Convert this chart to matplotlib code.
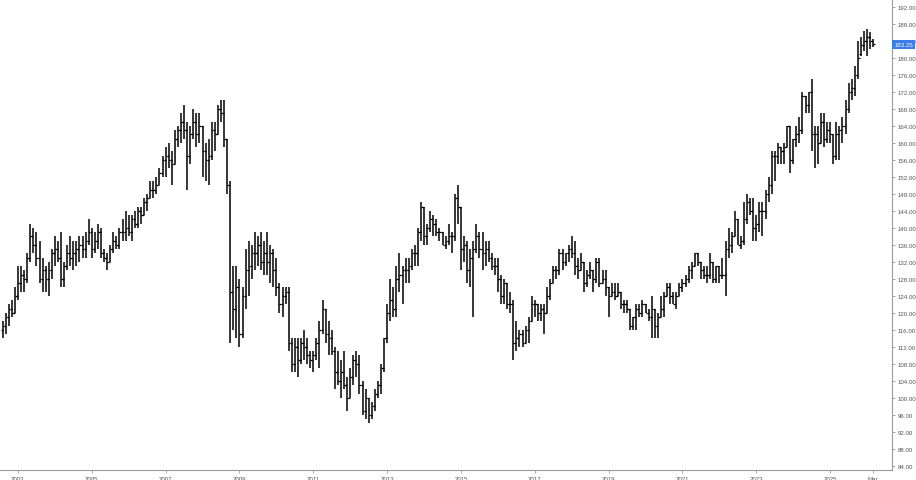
import numpy as np
import matplotlib
matplotlib.use("Agg")
import matplotlib.pyplot as plt

plt.rcParams["font.family"] = ["Liberation Sans", "DejaVu Sans"]

# monthly OHLC bars, Aug 2002 .. Mar 2026 (one line per calendar year)
opens = [
    116, 117, 119, 121, 120,
    124, 127, 129, 128, 133, 138, 136, 133, 128, 130, 128, 130,
    134, 135, 133, 128, 131, 134, 133, 134, 135, 136, 135, 137,
    139, 135, 137, 139, 134, 133, 132, 135, 137, 136, 139, 139,
    140, 139, 142, 141, 144, 143, 146, 147, 149, 149, 150, 153,
    156, 157, 156, 155, 161, 163, 165, 163, 157, 162, 165, 162,
    164, 158, 156, 157, 163, 162, 168, 167, 161, 150, 125, 121,
    126, 115, 124, 130, 131, 134, 134, 136, 132, 134, 132, 134,
    130, 126, 122, 124, 125, 113, 108, 112, 109, 113, 112, 110,
    109, 110, 113, 116, 121, 115, 114, 111, 106, 104, 106, 103,
    100, 105, 109, 108, 103, 97, 100, 96, 98, 101, 103, 107,
    114, 120, 123, 121, 128, 129, 130, 130, 131, 134, 134, 139,
    145, 138, 140, 142, 141, 139, 139, 136, 137, 138, 138, 147,
    145, 135, 136, 130, 133, 135, 138, 135, 134, 135, 133, 131,
    131, 128, 124, 127, 122, 122, 113, 114, 115, 113, 116, 118,
    122, 122, 120, 121, 120, 124, 127, 130, 130, 134, 132, 134,
    135, 134, 131, 130, 132, 127, 129, 130, 128, 132, 127, 128,
    126, 124, 125, 124, 125, 122, 122, 121, 117, 119, 121, 120,
    122, 120, 119, 121, 117, 119, 121, 124, 126, 124, 122, 124,
    126, 127, 128, 130, 131, 134, 132, 130, 129, 129, 132, 128,
    131, 129, 129, 135, 136, 138, 142, 136, 137, 142, 146, 144,
    140, 141, 144, 144, 148, 150, 157, 157, 159, 158, 159, 164,
    156, 161, 162, 163, 171, 169, 172, 162, 162, 160, 165, 161,
    163, 162, 157, 162, 163, 164, 168, 172, 173, 176, 181, 183,
    184, 185, 184,
]
highs = [
    118, 120, 122, 123, 126,
    131, 131, 130, 134, 141, 140, 139, 137, 133, 131, 132, 135,
    138, 137, 139, 132, 136, 138, 137, 137, 138, 138, 139, 142,
    140, 139, 141, 140, 135, 134, 136, 139, 138, 140, 142, 144,
    143, 143, 144, 145, 145, 147, 148, 151, 151, 152, 154, 157,
    159, 160, 158, 163, 164, 167, 169, 165, 164, 168, 167, 167,
    164, 160, 161, 165, 165, 169, 170, 170, 161, 151, 131, 131,
    128, 126, 135, 137, 136, 139, 138, 139, 137, 139, 136, 135,
    133, 127, 126, 126, 126, 114, 114, 114, 114, 116, 114, 111,
    111, 114, 118, 123, 121, 118, 116, 112, 111, 109, 111, 105,
    107, 110, 111, 110, 104, 102, 100, 99, 102, 104, 108, 114,
    122, 128, 126, 131, 134, 131, 133, 133, 135, 136, 140, 146,
    145, 141, 144, 143, 142, 140, 139, 138, 141, 139, 148, 150,
    145, 138, 137, 135, 137, 141, 139, 139, 137, 137, 134, 133,
    133, 129, 128, 127, 125, 123, 118, 116, 116, 117, 119, 124,
    123, 122, 122, 122, 126, 128, 131, 131, 135, 135, 134, 136,
    138, 137, 133, 134, 132, 130, 132, 130, 133, 133, 130, 130,
    126, 127, 127, 127, 125, 123, 123, 121, 119, 122, 122, 123,
    122, 121, 124, 121, 120, 124, 125, 127, 127, 125, 125, 127,
    128, 129, 131, 132, 134, 134, 132, 131, 131, 134, 132, 131,
    131, 133, 137, 140, 139, 144, 142, 138, 146, 148, 147, 147,
    143, 146, 146, 149, 152, 158, 158, 160, 159, 160, 164, 164,
    161, 164, 166, 172, 171, 172, 175, 164, 164, 167, 167, 165,
    165, 162, 165, 164, 166, 170, 174, 175, 178, 184, 185, 186.4,
    186.8, 186.1, 184.5,
]
lows = [
    114, 115, 117, 119, 120,
    123, 125, 125, 127, 132, 134, 131, 127, 125, 125, 124, 128,
    131, 132, 126, 126, 130, 131, 130, 131, 132, 133, 133, 136,
    133, 134, 135, 133, 132, 130, 132, 134, 135, 135, 137, 137,
    138, 137, 140, 140, 141, 143, 144, 147, 147, 148, 150, 152,
    152, 154, 150, 155, 159, 160, 161, 149, 155, 161, 159, 160,
    152, 151, 150, 156, 158, 162, 165, 159, 148, 113, 116, 114,
    112, 114, 121, 124, 128, 130, 131, 130, 129, 129, 127, 126,
    124, 120, 119, 122, 111, 106, 106, 105, 108, 109, 108, 107,
    106, 109, 107, 115, 113, 110, 110, 102, 103, 100, 102, 97,
    100, 103, 105, 101, 96, 95, 94, 95, 97, 100, 101, 106,
    113, 118, 119, 119, 125, 122, 127, 127, 130, 131, 131, 137,
    136, 136, 139, 138, 138, 137, 136, 135, 136, 134, 137, 141,
    130, 132, 127, 126, 119, 134, 133, 130, 131, 132, 130, 129,
    125, 122, 122, 121, 120, 109, 111, 112, 112, 113, 113, 118,
    119, 118, 118, 115, 120, 123, 127, 128, 129, 130, 131, 132,
    133, 129, 128, 130, 125, 126, 128, 125, 127, 126, 127, 124,
    119, 124, 123, 124, 121, 120, 120, 116, 116, 116, 119, 119,
    120, 118, 114, 114, 114, 119, 119, 124, 122, 122, 121, 124,
    125, 126, 127, 128, 131, 131, 128, 128, 127, 128, 127, 127,
    127, 128, 124, 133, 134, 138, 136, 135, 136, 141, 143, 137,
    137, 139, 138, 142, 146, 148, 151, 155, 155, 155, 159, 153,
    155, 159, 160, 162, 167, 167, 158, 154, 155, 160, 159, 160,
    160, 155, 156, 156, 160, 162, 167, 170, 171, 175, 180.5, 181.6,
    180.5, 182.1, 182.6,
]
closes = [
    117, 119, 121, 120, 124,
    127, 129, 128, 133, 138, 136, 133, 128, 130, 128, 130, 134,
    135, 133, 128, 131, 134, 133, 134, 135, 136, 135, 137, 139,
    135, 137, 139, 134, 133, 132, 135, 137, 136, 139, 139, 140,
    139, 142, 141, 144, 143, 146, 147, 149, 149, 150, 153, 156,
    157, 156, 155, 161, 163, 165, 163, 157, 162, 165, 162, 164,
    158, 156, 157, 163, 162, 168, 167, 161, 150, 125, 121, 126,
    115, 124, 130, 131, 134, 134, 136, 132, 134, 132, 134, 130,
    126, 122, 124, 125, 113, 108, 112, 109, 113, 112, 110, 109,
    110, 113, 116, 121, 115, 114, 111, 106, 104, 106, 103, 100,
    105, 109, 108, 103, 97, 100, 96, 98, 101, 103, 107, 114,
    120, 123, 121, 128, 129, 130, 130, 131, 134, 134, 139, 145,
    138, 140, 142, 141, 139, 139, 136, 137, 138, 138, 147, 145,
    135, 136, 130, 133, 135, 138, 135, 134, 135, 133, 131, 131,
    128, 124, 127, 122, 122, 113, 114, 115, 113, 116, 118, 122,
    122, 120, 121, 120, 124, 127, 130, 130, 134, 132, 134, 135,
    134, 131, 130, 132, 127, 129, 130, 128, 132, 127, 128, 126,
    124, 125, 124, 125, 122, 122, 121, 117, 119, 121, 120, 122,
    120, 119, 121, 117, 119, 121, 124, 126, 124, 122, 124, 126,
    127, 128, 130, 131, 134, 132, 130, 129, 129, 132, 128, 131,
    129, 129, 135, 136, 138, 142, 136, 137, 142, 146, 144, 140,
    141, 144, 144, 148, 150, 157, 157, 159, 158, 159, 164, 156,
    161, 162, 163, 171, 169, 172, 162, 162, 160, 165, 161, 163,
    162, 157, 162, 163, 164, 168, 172, 173, 176, 180, 183, 184,
    185, 184, 183.25,
]

first_offset = -5          # Aug 2002 relative to Jan 2003
year_labels = [str(y) for y in range(2003, 2026, 2)]
last_label = "Mar"
last_price = closes[-1]

fig = plt.figure(figsize=(9.16, 4.81), dpi=100)
ax = fig.add_axes([0.0, 0.0208, 0.9738, 0.9792])

x = np.arange(len(closes)) + first_offset
ax.vlines(x, lows, highs, color="black", lw=1.1)
ax.hlines(opens, x - 0.55, x, color="black", lw=0.9)
ax.hlines(closes, x, x + 0.55, color="black", lw=0.9)

ax.set_xlim(-5.84, 284.1)
ax.set_ylim(83.06, 193.88)

# axes styling
for s in ("top", "left"):
    ax.spines[s].set_visible(False)
for s in ("right", "bottom"):
    ax.spines[s].set_color("#9a9a9a")
    ax.spines[s].set_linewidth(0.8)

yt = np.arange(84, 193, 4)
ax.yaxis.tick_right()
ax.set_yticks(yt)
ax.set_yticklabels([f"{v:.2f}" for v in yt])

xt = [24 * i for i in range(len(year_labels))] + [278]
ax.set_xticks(xt)
ax.set_xticklabels(year_labels + [last_label])

ax.tick_params(axis="both", labelsize=4.4, colors="#9a9a9a", labelcolor="#555555",
               length=2.5, width=0.6, pad=1.5)

# last price tag
ax.text(1.0025, last_price, f"{last_price:.2f}", transform=ax.get_yaxis_transform(),
        ha="left", va="center", fontsize=4.4, color="white", clip_on=False,
        bbox=dict(boxstyle="square,pad=0.35", fc="#3d7be6", ec="none"))

fig.savefig("out.png", dpi=100)
